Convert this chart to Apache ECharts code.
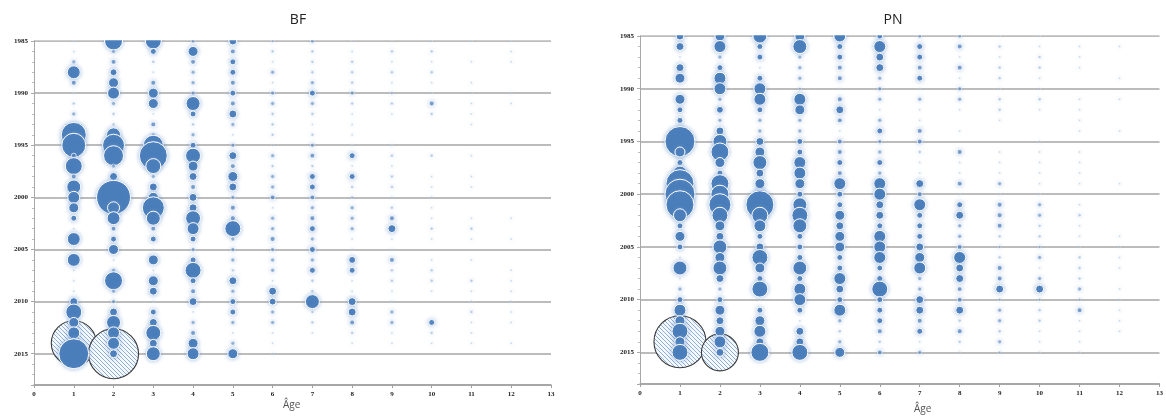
<!DOCTYPE html>
<html><head><meta charset="utf-8">
<script src="https://cdn.jsdelivr.net/npm/echarts@6/dist/echarts.min.js"></script>
<style>html,body{margin:0;padding:0;background:#fff}#c{width:1166px;height:418px}</style>
</head><body><div id="c"></div>
<script>
// Years 1985..2015 (index 0..30), ages 1..12
const YEARS = [1985,1986,1987,1988,1989,1990,1991,1992,1993,1994,1995,1996,1997,1998,1999,2000,2001,2002,2003,2004,2005,2006,2007,2008,2009,2010,2011,2012,2013,2014,2015];
const AGES = [1,2,3,4,5,6,7,8,9,10,11,12];
const X_TICKS = [0,1,2,3,4,5,6,7,8,9,10,11,12,13];
const Y_TICKS = [1985,1990,1995,2000,2005,2010,2015];

// BF bubble values (relative abundance)
const BF_AGE_1  = [1,1,4,42,6,1,2,4,2,156,144,6,72,6,49,36,25,9,1,42,1,42,1,1,1,16,64,25,36,25,225];
const BF_AGE_2  = [81,4,6,12,25,36,4,2,2,49,121,100,4,16,9,289,36,42,6,9,25,1,4,81,4,4,16,49,36,36,16];
const BF_AGE_3  = [64,9,2,1,6,25,25,1,6,4,100,196,56,4,16,25,121,49,6,9,1,25,1,25,16,1,9,16,56,16,49];
const BF_AGE_4  = [4,25,6,4,4,4,49,9,2,4,9,56,25,16,6,16,16,56,36,9,4,9,64,9,6,16,1,4,6,25,36];
const BF_AGE_5  = [16,6,9,9,6,9,6,16,4,1,4,16,6,25,16,4,6,6,64,4,4,4,2,16,4,9,9,4,1,4,25];
const BF_AGE_6  = [2,2,1,4,1,4,4,2,2,2,1,4,2,4,4,6,1,4,4,6,4,4,4,1,16,12,4,4,1,1,1];
const BF_AGE_7  = [4,2,2,2,4,9,4,2,1,2,4,6,2,9,9,6,4,6,9,4,9,4,9,2,2,49,2,2,1,0,0];
const BF_AGE_8  = [1,1,2,2,2,4,2,1,1,1,1,9,1,9,2,2,4,4,4,1,1,12,9,1,1,16,16,6,2,1,0];
const BF_AGE_9  = [1,2,1,2,1,2,2,1,0,0,1,2,1,2,2,1,2,6,16,1,1,6,2,2,1,1,4,4,1,1,0];
const BF_AGE_10 = [1,2,1,2,1,1,6,2,0,0,0,2,0,1,1,1,1,1,2,1,0,1,2,2,1,0,0,9,2,1,0];
const BF_AGE_11 = [1,0,1,0,1,1,1,1,1,0,0,1,0,1,1,0,0,1,2,1,0,1,0,2,1,1,2,1,1,1,0];
const BF_AGE_12 = [1,1,1,0,0,1,1,0,0,0,0,0,0,0,0,0,0,1,0,1,0,0,1,1,1,1,1,1,0,1,0];

// PN bubble values
const PN_AGE_1  = [16,16,1,16,25,1,25,9,9,16,225,25,9,49,196,225,196,42,9,25,9,1,49,1,4,9,36,25,64,25,64];
const PN_AGE_2  = [25,36,4,9,36,36,4,12,4,16,49,81,25,9,81,81,121,64,25,16,49,25,49,16,4,9,25,16,25,36,16];
const PN_AGE_3  = [49,9,9,1,9,36,36,9,4,4,16,25,49,16,25,25,196,64,36,9,16,64,25,9,64,1,9,25,36,16,81];
const PN_AGE_4  = [25,49,4,4,4,2,36,25,4,4,9,9,36,36,25,9,49,64,49,9,9,9,49,9,36,36,9,1,16,16,64];
const PN_AGE_5  = [36,9,9,6,6,1,6,16,6,1,6,6,9,6,36,9,9,25,16,25,25,9,9,36,16,9,36,4,2,4,25];
const PN_AGE_6  = [9,36,16,16,4,4,4,1,4,9,4,4,9,4,36,36,16,16,9,36,36,36,9,9,64,9,9,9,6,2,6];
const PN_AGE_7  = [4,9,9,6,9,1,4,1,1,6,6,2,1,1,16,6,36,9,9,9,16,25,36,4,4,16,16,6,9,1,4];
const PN_AGE_8  = [4,6,1,6,1,4,4,1,0,1,0,6,1,1,6,1,9,16,4,4,6,36,16,16,6,6,16,2,6,2,1];
const PN_AGE_9  = [1,2,1,2,2,1,2,2,1,0,0,1,1,1,4,1,6,6,6,2,2,2,6,6,16,2,4,4,2,4,2];
const PN_AGE_10 = [1,1,2,2,1,1,2,1,0,0,1,1,1,1,1,1,4,4,2,2,2,4,1,4,16,2,2,2,1,1,1];
const PN_AGE_11 = [0,1,1,1,0,0,1,1,1,1,0,1,1,1,1,0,1,2,1,1,1,2,2,2,4,2,6,1,1,1,1];
const PN_AGE_12 = [0,1,0,0,1,0,1,0,0,1,0,0,0,0,1,0,0,0,0,1,1,1,1,0,1,1,1,1,1,0,0];

// Hatched cohort circles [age, year, value]
const BF_HATCH = [[1, 2014, 506], [2, 2015, 625]];
const PN_HATCH = [[1, 2014, 676], [2, 2015, 342]];

const BF_COLS = [BF_AGE_1,BF_AGE_2,BF_AGE_3,BF_AGE_4,BF_AGE_5,BF_AGE_6,BF_AGE_7,BF_AGE_8,BF_AGE_9,BF_AGE_10,BF_AGE_11,BF_AGE_12];
const PN_COLS = [PN_AGE_1,PN_AGE_2,PN_AGE_3,PN_AGE_4,PN_AGE_5,PN_AGE_6,PN_AGE_7,PN_AGE_8,PN_AGE_9,PN_AGE_10,PN_AGE_11,PN_AGE_12];

function buildPoints(cols){
  const out = [];
  cols.forEach((col, ai) => {
    col.forEach((v, yi) => {
      if (v > 0) out.push({value:[AGES[ai], YEARS[yi], v], itemStyle:{opacity: Math.min(1, 0.22 + v*0.08)}});
    });
  });
  return out;
}

// diagonal hatch pattern
const pat = document.createElement('canvas');
pat.width = 8; pat.height = 8;
(function(){
  const g = pat.getContext('2d');
  g.fillStyle = '#f5f8fc'; g.fillRect(0,0,8,8);
  g.strokeStyle = '#8eafd8'; g.lineWidth = 1;
  for (let i = -8; i <= 8; i += 4) { g.beginPath(); g.moveTo(i, 0); g.lineTo(i + 8, 8); g.stroke(); }
})();

const chart = echarts.init(document.getElementById('c'), null, {renderer:'canvas'});
const sizeFn = val => 2*Math.sqrt(val[2]);

function hatchRender(params, api){
  const p = api.coord([api.value(0), api.value(1)]);
  const r = Math.sqrt(api.value(2));
  return {type:'circle', shape:{cx:p[0], cy:p[1], r:r},
    style:{fill:{image:pat, repeat:'repeat'}, stroke:'#3a3a3a', lineWidth:1.1}};
}

function xAxisCfg(gi){
  return {
    gridIndex: gi, type:'value', min:0, max:13, interval:1,
    axisLine:{show:true, lineStyle:{color:'#a0a0a0', width:1.5}},
    axisTick:{show:true, length:3, lineStyle:{color:'#a0a0a0'}},
    axisLabel:{fontSize:7, fontWeight:'bold', color:'#222', fontFamily:'Liberation Serif', margin:6,
      formatter: v => X_TICKS.indexOf(v) >= 0 ? String(v) : ''},
    splitLine:{show:false}
  };
}
function yAxisCfg(gi){
  return {
    gridIndex: gi, type:'value', min:1985, max:2018, interval:5, inverse:true,
    axisLine:{show:true, lineStyle:{color:'#a8a8a8', width:1}},
    axisTick:{show:true, length:3, lineStyle:{color:'#aaa'}},
    minorTick:{show:true, splitNumber:5, length:2, lineStyle:{color:'#bbb'}},
    axisLabel:{fontSize:7, fontWeight:'bold', color:'#222', fontFamily:'Liberation Serif', margin:6,
      formatter: v => Y_TICKS.indexOf(v) >= 0 ? String(v) : ''},
    splitLine:{show:true, lineStyle:{color:'#a6a6a6', width:1.5}}
  };
}

const bubbleStyle = {color:'#4a7ebb', borderColor:'#ffffff', borderWidth:1, shadowBlur:4, shadowColor:'rgba(110,150,205,0.6)'};

chart.setOption({
  animation:false,
  title:[
    {text:'BF', left:293, top:8, textAlign:'center', z:20, textStyle:{fontSize:14, fontWeight:'normal', color:'#222', fontFamily:'Open Sans'}},
    {text:'PN', left:888, top:8, textAlign:'center', z:20, textStyle:{fontSize:14, fontWeight:'normal', color:'#222', fontFamily:'Open Sans'}}
  ],
  grid:[
    {left:34, top:41, width:517, height:344},
    {left:640, top:36, width:528, height:348}
  ],
  xAxis:[xAxisCfg(0), xAxisCfg(1)],
  yAxis:[yAxisCfg(0), yAxisCfg(1)],
  graphic:[
    {type:'rect', shape:{x:35, y:0, width:520, height:40.2}, style:{fill:'#fff'}, z:5, silent:true},
    {type:'rect', shape:{x:641, y:0, width:525, height:35.2}, style:{fill:'#fff'}, z:5, silent:true},
    {type:'text', left:283, top:400, z:20, style:{text:'Âge', fontSize:10, fill:'#555', fontFamily:'Open Sans'}},
    {type:'text', left:914, top:404, z:20, style:{text:'Âge', fontSize:10, fill:'#555', fontFamily:'Open Sans'}}
  ],
  series:[
    {type:'custom', xAxisIndex:0, yAxisIndex:0, data:BF_HATCH, renderItem:hatchRender, z:1, silent:true},
    {type:'scatter', xAxisIndex:0, yAxisIndex:0, data:buildPoints(BF_COLS), symbolSize:sizeFn, itemStyle:bubbleStyle, z:2, clip:true},
    {type:'custom', xAxisIndex:1, yAxisIndex:1, data:PN_HATCH, renderItem:hatchRender, z:1, silent:true},
    {type:'scatter', xAxisIndex:1, yAxisIndex:1, data:buildPoints(PN_COLS), symbolSize:sizeFn, itemStyle:bubbleStyle, z:2, clip:true}
  ]
});
</script></body></html>
